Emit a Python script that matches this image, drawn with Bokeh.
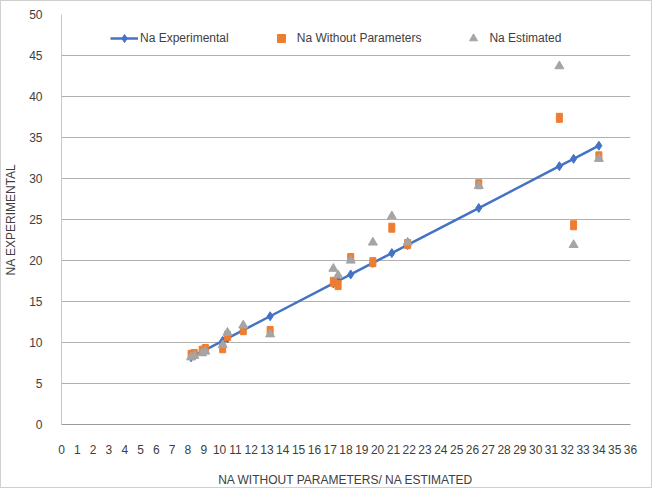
from bokeh.plotting import figure
from bokeh.models import ColumnDataSource, Legend, LegendItem, Range1d
from bokeh.embed import file_html
from bokeh.resources import INLINE

# Data (x = experimental value)
na_experimental = [8.2, 8.4, 8.9, 9.1, 10.2, 10.5, 11.5, 13.2, 17.2, 17.5, 18.3, 19.7, 20.9, 21.9, 26.4, 31.5, 32.4, 34.0]
na_without_parameters = [8.5, 8.6, 9.0, 9.2, 9.3, 10.8, 11.5, 11.4, 17.4, 17.0, 20.3, 19.8, 24.0, 22.0, 29.3, 37.4, 24.3, 32.7]
na_estimated = [8.2, 8.4, 8.7, 8.9, 9.7, 11.2, 12.1, 11.0, 19.0, 18.2, 20.0, 22.2, 25.4, 22.2, 29.1, 43.7, 21.9, 32.4]
x_ticks = list(range(0, 37))
y_ticks = list(range(0, 51, 5))

src = ColumnDataSource(dict(x=na_experimental, exp=na_experimental,
                            wo=na_without_parameters, est=na_estimated))

FONT = "Liberation Sans"

p = figure(width=652, height=488, output_backend="svg", toolbar_location=None,
           x_range=Range1d(0, 36), y_range=Range1d(0, 50),
           min_border_left=52, min_border_right=23, min_border_top=13, min_border_bottom=65)
p.styles = {"border": "1px solid #d0d0d0"}
p.outline_line_color = None

l1 = p.line("x", "exp", source=src, line_color="#4472C4", line_width=2.5)
s1 = p.scatter("x", "exp", source=src, marker="diamond", size=9, color="#4472C4")
s2 = p.rect("x", "wo", source=src, width=6, height=9, width_units="screen",
            height_units="screen", color="#ED7D31")
s3 = p.scatter("x", "est", source=src, marker="triangle", size=9, color="#A5A5A5")
# legend proxy for the orange squares (a single NaN point, not drawn)
leg_src = ColumnDataSource(dict(x=[float("nan")], y=[float("nan")]))
s2_leg = p.scatter("x", "y", source=leg_src, marker="square", size=7, color="#ED7D31")

p.xaxis.ticker = x_ticks
p.yaxis.ticker = y_ticks
p.xgrid.grid_line_color = None
p.ygrid.grid_line_color = "#b0b0b0"
p.ygrid.grid_line_width = 1
for ax in (p.xaxis[0], p.yaxis[0]):
    ax.major_tick_line_color = None
    ax.minor_tick_line_color = None
    ax.axis_line_color = "#c8c8c8"
    ax.major_label_text_font = FONT
    ax.major_label_text_font_size = "12px"
    ax.major_label_text_color = "#404040"
p.xaxis.major_label_standoff = 14
p.yaxis.major_label_standoff = 13
p.xaxis.axis_line_color = "#9a9a9a"

p.xaxis.axis_label = "NA WITHOUT PARAMETERS/ NA ESTIMATED"
p.xaxis.axis_label_text_font = FONT
p.xaxis.axis_label_text_font_size = "12px"
p.xaxis.axis_label_text_font_style = "normal"
p.xaxis.axis_label_text_color = "#404040"
p.xaxis.axis_label_standoff = 16

p.yaxis.axis_label = "NA EXPERIMENTAL"
p.yaxis.axis_label_text_font = FONT
p.yaxis.axis_label_text_font_size = "12px"
p.yaxis.axis_label_text_font_style = "normal"
p.yaxis.axis_label_text_color = "#404040"
p.yaxis.axis_label_standoff = 8

legend = Legend(items=[
    LegendItem(label="Na Experimental", renderers=[l1, s1]),
    LegendItem(label="Na Without Parameters", renderers=[s2_leg]),
    LegendItem(label="Na Estimated", renderers=[s3]),
], orientation="horizontal", location=(49, 376))
legend.label_text_font = FONT
legend.label_text_font_size = "12px"
legend.label_text_color = "#404040"
legend.border_line_color = None
legend.background_fill_alpha = 0
legend.spacing = 38
legend.glyph_width = 28
legend.label_standoff = 2
p.add_layout(legend, "center")

open("out.html", "w").write(file_html(p, INLINE))
